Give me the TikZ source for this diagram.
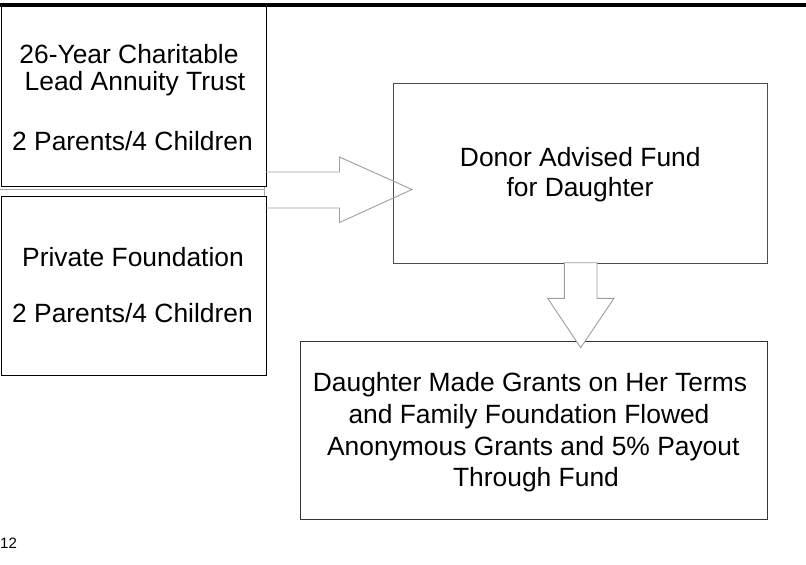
\documentclass[tikz,border=0pt]{standalone}
\usepackage{fontspec}
\setmainfont{Liberation Sans}
\begin{document}
\begin{tikzpicture}[x=1pt,y=-1pt,
  box/.style={draw=#1, line width=1pt, inner sep=0pt, anchor=north west},
  box/.default=black,
  txt/.style={inner sep=0pt, anchor=base, font=\fontsize{26.4}{30}\selectfont},
  blockarrow/.style={draw=black!38, line width=0.9pt, line join=miter}]
\useasboundingbox (0,0) rectangle (806,565);

% rule across the top
\draw[line width=4pt] (0,5) -- (806,5);

% boxes
\node[box, minimum width=265.5pt, minimum height=180pt] (clat) at (0.5,6) {};
\node[box, minimum width=265.5pt, minimum height=179pt] (pf) at (0.5,196) {};
\node[box=black!70, minimum width=374pt, minimum height=179.5pt] (daf) at (393.3,83.3) {};
\node[box=black!80, minimum width=467pt, minimum height=178.5pt] (grants) at (300.3,340.8) {};

% strip between the two left boxes
\draw[black!35, line width=0.8pt] (0,189) -- (264.5,189) -- (264.5,186.5);
\draw[black!35, line width=0.8pt] (264.5,189) -- (264.5,196);

% block arrow into the fund box
\draw[blockarrow] (266,172) -- (339.5,172) -- (339.5,157) -- (412,189.5)
  -- (339.5,222.5) -- (339.5,208) -- (266,208);

% block arrow down to the grants box
\draw[blockarrow, fill=white] (564.3,262.7) -- (564.3,298.3) -- (547.7,298.3)
  -- (580.7,347.7) -- (614,298.3) -- (597,298.3) -- (597,262.7) -- cycle;

% texts
\node[txt] (t1) at (129,63.3) {26-Year Charitable};
\node[txt] (t2) at (135,90.7) {Lead Annuity Trust};
\node[txt] (t3) at (132.5,150) {2 Parents/4 Children};
\node[txt] (t4) at (133,266) {Private Foundation};
\node[txt] (t5) at (132.5,322.7) {2 Parents/4 Children};
\node[txt] (t6) at (580.3,166.7) {Donor Advised Fund};
\node[txt] (t7) at (580,196) {for Daughter};
\node[txt] (t8) at (530,391.7) {Daughter Made Grants on Her Terms};
\node[txt] (t9) at (529,423.4) {and Family Foundation Flowed};
\node[txt] (t10) at (533.3,455.1) {Anonymous Grants and 5\% Payout};
\node[txt] (t11) at (536,486.8) {Through Fund};

% page number
\node[inner sep=0pt, anchor=base west, font=\fontsize{15}{18}\selectfont] (pg) at (0,548.3) {12};
\end{tikzpicture}
\end{document}
